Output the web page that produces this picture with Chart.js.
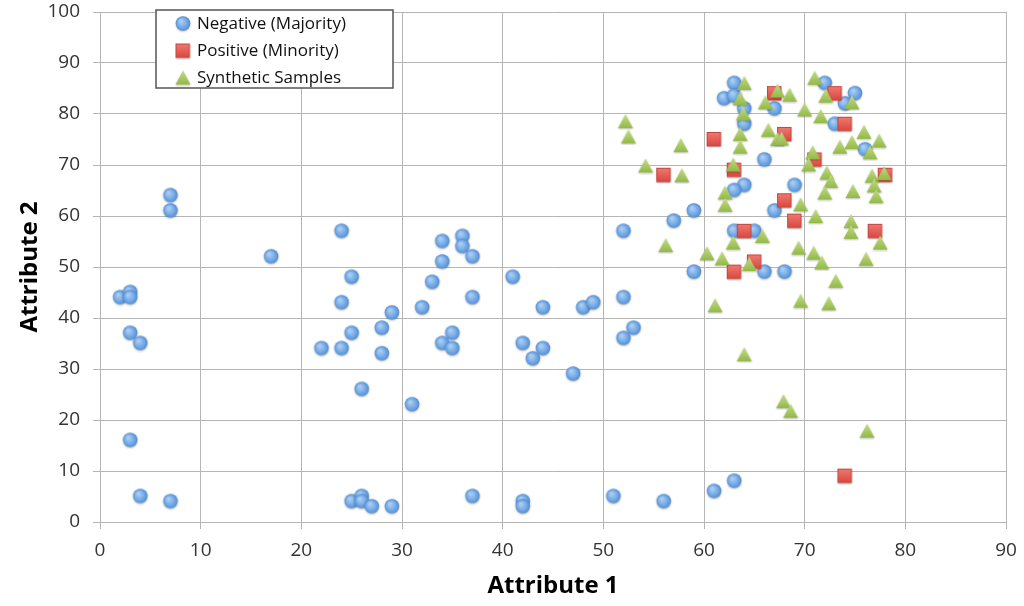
<!DOCTYPE html>
<html>
<head>
<meta charset="utf-8">
<script src="https://cdn.jsdelivr.net/npm/chart.js@4/dist/chart.umd.min.js"></script>
<style>
  html, body { margin: 0; padding: 0; background: #fff; }
  #wrap { width: 1024px; height: 606px; position: relative; }
</style>
</head>
<body>
<div id="wrap"><canvas id="chart" width="1024" height="606"></canvas></div>
<script>
// Negative (Majority) samples
const negX = [2, 3, 3, 3, 4, 3, 4, 7, 7, 7, 17,
  24, 24, 22, 24, 25, 25, 26, 25, 26, 26, 27, 29, 31, 37, 42, 42,
  34, 36, 36, 37, 34, 33, 41, 37, 32, 29, 44, 48, 49, 28, 35, 28, 34, 35, 42, 44, 43, 47,
  52, 52, 53, 52, 51, 56, 61, 63,
  63, 72, 62, 63, 64, 67, 64, 73, 75, 74, 76, 66, 64, 63, 69, 59, 57, 67, 63, 65, 59, 66, 68];
const negY = [44, 45, 44, 37, 35, 16, 5, 4, 64, 61, 52,
  57, 43, 34, 34, 48, 37, 26, 4, 5, 4, 3, 3, 23, 5, 4, 3,
  55, 56, 54, 52, 51, 47, 48, 44, 42, 41, 42, 42, 43, 38, 37, 33, 35, 34, 35, 34, 32, 29,
  57, 44, 38, 36, 5, 4, 6, 8,
  86, 86, 83, 83.5, 81, 81, 78, 78, 84, 82, 73, 71, 66, 65, 66, 61, 59, 61, 57, 57, 49, 49, 49];

// Positive (Minority) samples
const posX = [61, 56, 63, 67, 73, 74, 68, 71, 78, 68, 69, 77, 64, 65, 63, 74];
const posY = [75, 68, 69, 84, 84, 78, 76, 71, 68, 63, 59, 57, 57, 51, 49, 9];

// Synthetic samples
const synX = [64, 71, 67.3, 68.5, 66.1, 63.6, 72.1, 74.7, 70, 71.6, 63.9, 52.2, 52.5, 57.7, 54.2, 57.8,
  63.6, 63.6, 66.4, 67.3, 67.7, 75.9, 77.4, 74.7, 73.5, 76.5, 70.8, 70.4, 62.9, 72.2, 72.6, 76.7,
  77.9, 76.9, 77.1, 74.8, 72, 62.1, 62.1, 69.6, 71.1, 74.6, 74.6, 77.5, 56.2, 65.8, 62.9, 60.3,
  61.8, 64.5, 69.4, 70.9, 71.7, 76.1, 73.1, 61.1, 69.6, 72.4, 64, 67.9, 68.6, 76.2];
const synY = [86, 87, 84.5, 83.7, 82.2, 83, 83.5, 82.2, 80.8, 79.5, 80, 78.5, 75.5, 73.8, 69.8, 67.9,
  76, 73.5, 76.8, 75, 75.1, 76.4, 74.7, 74.4, 73.5, 72.4, 72.4, 70, 70, 68.4, 66.8, 67.8,
  68.3, 65.9, 63.8, 64.8, 64.5, 64.5, 62.1, 62.2, 59.9, 58.9, 56.8, 54.7, 54.2, 56, 54.7, 52.6,
  51.6, 50.5, 53.7, 52.7, 50.8, 51.5, 47.2, 42.4, 43.3, 42.8, 32.8, 23.6, 21.7, 17.8];

const seriesLabels = ["Negative (Majority)", "Positive (Minority)", "Synthetic Samples"];

const FONT = "'Open Sans', 'DejaVu Sans', sans-serif";

function pts(xs, ys) {
  return xs.map((x, i) => ({ x: x, y: ys[i] }));
}

// glossy marker sprites
function makeCircle() {
  const c = document.createElement("canvas");
  c.width = 18; c.height = 18;
  const g = c.getContext("2d");
  g.shadowColor = "rgba(0,0,0,0.25)";
  g.shadowBlur = 2;
  g.shadowOffsetY = 1;
  const grad = g.createRadialGradient(7, 6, 1, 9, 9, 8);
  grad.addColorStop(0, "#a9cdf3");
  grad.addColorStop(0.6, "#6fa6e4");
  grad.addColorStop(1, "#4a83c9");
  g.fillStyle = grad;
  g.beginPath();
  g.arc(9, 8.5, 7.3, 0, Math.PI * 2);
  g.fill();
  return c;
}

function makeSquare() {
  const c = document.createElement("canvas");
  c.width = 17; c.height = 17;
  const g = c.getContext("2d");
  g.shadowColor = "rgba(0,0,0,0.25)";
  g.shadowBlur = 2;
  g.shadowOffsetY = 1;
  const grad = g.createLinearGradient(0, 1, 0, 15);
  grad.addColorStop(0, "#f07a72");
  grad.addColorStop(1, "#d9483f");
  g.fillStyle = grad;
  g.fillRect(1.5, 1.5, 13.5, 13.5);
  g.shadowColor = "transparent";
  g.strokeStyle = "#c4463e";
  g.lineWidth = 1;
  g.strokeRect(1.5, 1.5, 13.5, 13.5);
  return c;
}

function makeTriangle() {
  const c = document.createElement("canvas");
  c.width = 18; c.height = 17;
  const g = c.getContext("2d");
  g.shadowColor = "rgba(0,0,0,0.25)";
  g.shadowBlur = 2;
  g.shadowOffsetY = 1;
  const grad = g.createLinearGradient(0, 1, 0, 15);
  grad.addColorStop(0, "#c4dc84");
  grad.addColorStop(1, "#93b948");
  g.fillStyle = grad;
  g.beginPath();
  g.moveTo(9, 1);
  g.lineTo(16.5, 15);
  g.lineTo(1.5, 15);
  g.closePath();
  g.fill();
  return c;
}

const sprites = [makeCircle(), makeSquare(), makeTriangle()];

// legend box drawn inside the plot
const boxLegend = {
  id: "boxLegend",
  afterDraw(chart) {
    const ctx = chart.ctx;
    const x0 = 156, y0 = 10, w = 237, h = 78;
    ctx.save();
    ctx.fillStyle = "#fff";
    ctx.fillRect(x0, y0, w, h);
    ctx.strokeStyle = "#555";
    ctx.lineWidth = 1.5;
    ctx.strokeRect(x0, y0, w, h);
    ctx.font = "17px " + FONT;
    ctx.fillStyle = "#111";
    ctx.textBaseline = "middle";
    chart.data.datasets.forEach((ds, i) => {
      const cy = y0 + 14 + i * 27;
      const img = sprites[i];
      ctx.drawImage(img, 183 - img.width / 2, cy - img.height / 2);
      ctx.fillText(ds.label, 197, cy);
    });
    ctx.restore();
  }
};

new Chart(document.getElementById("chart"), {
  type: "scatter",
  data: {
    datasets: [
      { label: seriesLabels[0], data: pts(negX, negY), pointStyle: sprites[0], order: 3 },
      { label: seriesLabels[1], data: pts(posX, posY), pointStyle: sprites[1], order: 2 },
      { label: seriesLabels[2], data: pts(synX, synY), pointStyle: sprites[2], order: 1 }
    ]
  },
  options: {
    responsive: false,
    animation: false,
    layout: { padding: { top: 12, right: 18, left: 0, bottom: 0 } },
    plugins: {
      legend: { display: false },
      tooltip: { enabled: false }
    },
    scales: {
      x: {
        type: "linear",
        min: 0,
        max: 90,
        ticks: { stepSize: 10, padding: 10, color: "#333", font: { family: FONT, size: 19 } },
        grid: { color: "#b5b5b5", lineWidth: 1, tickLength: 7 },
        border: { color: "#b5b5b5" },
        title: {
          display: true,
          text: "Attribute 1",
          color: "#000",
          font: { family: FONT, size: 24, weight: "bold" },
          padding: { top: 0, bottom: 5 }
        },
        afterFit(scale) {
          scale.height = 84;
          scale.paddingLeft = 0;
          scale.paddingRight = 0;
        }
      },
      y: {
        type: "linear",
        min: 0,
        max: 100,
        ticks: { stepSize: 10, padding: 13, color: "#333", font: { family: FONT, size: 19 } },
        grid: { color: "#b5b5b5", lineWidth: 1, tickLength: 7 },
        border: { color: "#b5b5b5" },
        title: {
          display: true,
          text: "Attribute 2",
          color: "#000",
          font: { family: FONT, size: 24, weight: "bold" },
          padding: { top: 16, bottom: 0 }
        },
        afterFit(scale) {
          scale.width = 100;
          scale.paddingTop = 0;
          scale.paddingBottom = 0;
        }
      }
    }
  },
  plugins: [boxLegend]
});
</script>
</body>
</html>
